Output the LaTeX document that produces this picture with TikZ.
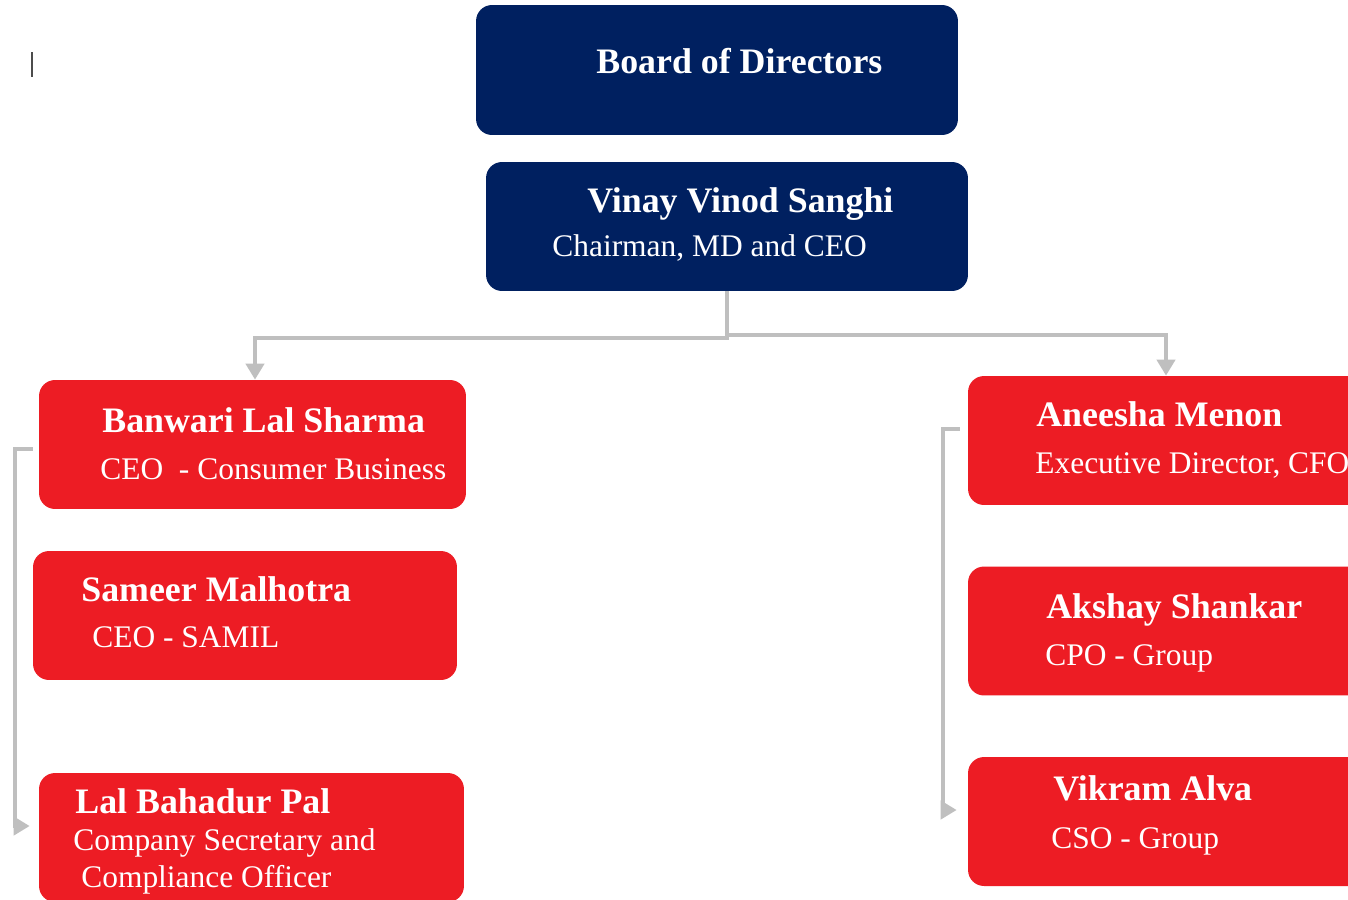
\documentclass[tikz,border=0pt]{standalone}
\usepackage{fontspec}
\setmainfont{Liberation Serif}
\usetikzlibrary{arrows.meta}
\definecolor{navy}{HTML}{002060}
\definecolor{boxred}{HTML}{ED1C24}
\definecolor{linegray}{HTML}{BFBFBF}

\tikzset{
    box/.style={rectangle, rounded corners=0.32cm, inner sep=0pt, minimum height=2.58cm},
    bluebox/.style={box, fill=navy, minimum width=9.64cm},
    redbox/.style={box, fill=boxred},
    namelabel/.style={anchor=base west, inner sep=0pt, text=white, font=\fontsize{20.4}{24}\selectfont\bfseries},
    rolelabel/.style={anchor=base west, inner sep=0pt, text=white, font=\fontsize{17.9}{21}\selectfont},
    conn/.style={draw=linegray, line width=0.08cm, -{Triangle[width=0.36cm, length=0.32cm]}}
}

\begin{document}
\begin{tikzpicture}[x=0.02cm, y=-0.02cm]
    \clip (0,0) rectangle (1348,899);
    \fill[white] (0,0) rectangle (1348,899);
    \draw[black!70, line width=0.04cm] (32,52) -- (32,77);

    \node[bluebox, minimum height=2.6cm] (board) at (717,70) {};
    \node[bluebox] (vinay) at (727,226.5) {};

    \node[redbox, minimum width=8.54cm] (banwari) at (252.5,444.5) {};
    \node[redbox, minimum width=8.48cm] (sameer) at (245,615.5) {};
    \node[redbox, minimum width=8.5cm] (lal) at (251.5,837.5) {};

    \node[redbox, minimum width=7.92cm] (aneesha) at (1166,440.5) {};
    \node[redbox, minimum width=7.92cm] (akshay) at (1166,631) {};
    \node[redbox, minimum width=7.92cm] (vikram) at (1166,821.5) {};

    \node[namelabel] (board-n) at (596,73) {Board of Directors};
    \node[namelabel] (vinay-n) at (587,212) {Vinay Vinod Sanghi};
    \node[rolelabel] (vinay-r) at (552,256) {Chairman, MD and CEO};
    \node[namelabel] (banwari-n) at (102,432) {Banwari Lal Sharma};
    \node[rolelabel] (banwari-r) at (100,479) {CEO\ \ - Consumer Business};
    \node[namelabel] (sameer-n) at (81,601) {Sameer Malhotra};
    \node[rolelabel] (sameer-r) at (92,647) {CEO - SAMIL};
    \node[namelabel] (lal-n) at (75,813) {Lal Bahadur Pal};
    \node[rolelabel] (lal-r1) at (73,850) {Company Secretary and};
    \node[rolelabel] (lal-r2) at (81,887) {Compliance Officer};
    \node[namelabel] (aneesha-n) at (1036,426) {Aneesha Menon};
    \node[rolelabel] (aneesha-r) at (1035,473) {Executive Director, CFO};
    \node[namelabel] (akshay-n) at (1046,618) {Akshay Shankar};
    \node[rolelabel] (akshay-r) at (1045,665) {CPO - Group};
    \node[namelabel] (vikram-n) at (1053,800) {Vikram Alva};
    \node[rolelabel] (vikram-r) at (1051,848) {CSO - Group};

    \draw[conn] (vinay.south) -- ++(0,47) -| ([xshift=0.05cm]banwari.north);
    \draw[conn] (vinay.south) -- ++(0,44) -| (aneesha.north);
    \draw[conn] ([shift={(-6,4.5)}]banwari.west) -- ++(-18,0) |- ([shift={(-9,-11.5)}]lal.west);
    \draw[conn] ([shift={(-8,-11.5)}]aneesha.west) -- ++(-17,0) |- ([shift={(-11,-11.5)}]vikram.west);
\end{tikzpicture}
\end{document}
